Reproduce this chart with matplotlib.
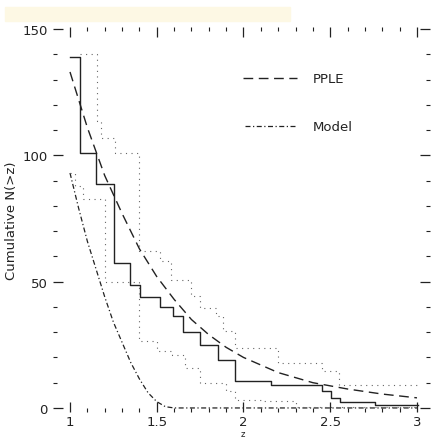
import matplotlib
matplotlib.use("Agg")
import matplotlib.pyplot as plt
from matplotlib.patches import Rectangle

# PPLE fit curve (dashed)
pple_z = [1.0, 1.1, 1.2, 1.3, 1.4, 1.5, 1.6, 1.7, 1.8, 1.9, 2.0, 2.2, 2.4, 2.6, 2.8, 3.0]
pple_n = [133, 111, 92, 77, 63, 52, 43, 35, 29, 24, 20, 14, 10, 7.5, 5.5, 4]

# model curve (dash-dot)
model_z = [1.0, 1.05, 1.1, 1.15, 1.2, 1.25, 1.3, 1.35, 1.4, 1.45, 1.5, 1.55, 1.6, 3.0]
model_n = [93, 79, 66, 55, 44, 34, 26, 18, 11.5, 6, 2.5, 0.5, 0, 0]

# observed cumulative counts (solid steps)
obs_z = [1.0, 1.058, 1.15, 1.254, 1.346, 1.404, 1.52, 1.594, 1.652, 1.75, 1.853,
         1.953, 2.16, 2.45, 2.505, 2.557, 2.76, 3.007]
obs_n = [139, 101, 88.6, 57.4, 48.7, 44, 40, 36.4, 30.1, 25, 19,
         10.7, 9.1, 6.7, 4, 2.5, 1.2]

# upper / lower bands (dotted steps)
up_z = [1.06, 1.156, 1.18, 1.26, 1.40, 1.52, 1.58, 1.70, 1.75, 1.84, 1.88, 1.95,
        2.2, 2.45, 2.55, 3.0]
up_n = [140, 113.6, 107, 101, 62, 58, 50.7, 44.3, 39.6, 36.4, 30.5, 23.7, 17.8, 14.6, 9.1]

lo_z = [1.0, 1.03, 1.075, 1.2, 1.4, 1.5, 1.59, 1.66, 1.75, 1.9, 1.95, 2.1, 2.3, 3.0]
lo_n = [93, 88, 82.7, 50, 26.5, 22.6, 21, 15.8, 9.9, 6.7, 3.2, 2.8, 0.5]

fig = plt.figure(figsize=(4.38, 4.39), dpi=100)
fig.patches.append(Rectangle((5/438, 1-22/439), 285/438, 14/439,
                             transform=fig.transFigure, color="#fdf8e4", zorder=0))
ax = fig.add_axes([53/438, 1-413/439, 377/438, 385/439])

ink = "#222222"
ax.plot(pple_z, pple_n, color=ink, lw=1.0, ls=(0, (7, 4)))
ax.plot(model_z, model_n, color=ink, lw=0.9, ls=(0, (4, 2, 1, 2)))
ax.step(obs_z, obs_n + [obs_n[-1]], where="post", color=ink, lw=1.0)
ax.step(up_z, up_n + [up_n[-1]], where="post", color="#666666", lw=0.8, ls=(0, (1, 4)))
ax.step(lo_z, lo_n + [lo_n[-1]], where="post", color="#666666", lw=0.8, ls=(0, (1, 4)))

# legend drawn by hand like the original
ax.plot([1.999, 2.31], [130.5, 130.5], color=ink, lw=1.0, ls=(0, (7, 4)))
ax.text(2.4, 130.5, "PPLE", fontsize=9.5, va="center", color=ink)
ax.plot([2.01, 2.31], [111.5, 111.5], color=ink, lw=0.9, ls=(0, (4, 2, 1, 2)))
ax.text(2.4, 111.5, "Model", fontsize=9.5, va="center", color=ink)

ax.set_xlim(0.902, 3.075)
ax.set_ylim(-1.6, 150.8)
ax.set_xticks([1, 1.5, 2, 2.5, 3])
ax.set_xticklabels(["1", "1.5", "2", "2.5", "3"])
ax.set_xticks([1 + 0.1 * i for i in range(21)], minor=True)
ax.set_yticks([0, 50, 100, 150])
ax.set_yticks(list(range(0, 151, 10)), minor=True)
ax.tick_params(which="both", direction="in", top=True, right=True, colors=ink,
               labelsize=9.5)
ax.tick_params(which="major", length=7, width=0.9, pad=4)
ax.tick_params(axis="x", which="major", pad=2)
ax.tick_params(which="minor", length=3, width=0.8)
for s in ax.spines.values():
    s.set_visible(False)

ax.set_ylabel("Cumulative N(>z)", fontsize=9.5, color=ink, labelpad=3)
fig.text(243/438, 0, "z", fontsize=6, color=ink, ha="center", va="bottom")

fig.savefig("out.png", dpi=100)
